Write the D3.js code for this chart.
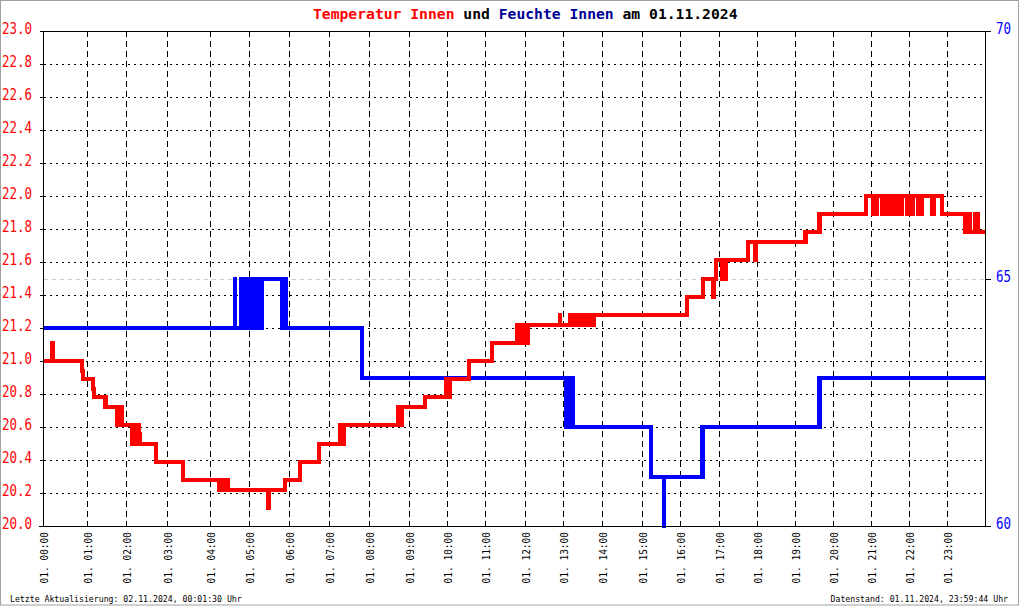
<!DOCTYPE html>
<html>
<head>
<meta charset="utf-8">
<script src="https://cdn.jsdelivr.net/npm/d3@7"></script>
<style>
  html, body { margin: 0; padding: 0; background: #fff; }
  svg { display: block; }
  text { font-family: "DejaVu Sans Mono", "Liberation Mono", monospace; white-space: pre; }
</style>
</head>
<body>
<svg id="chart" width="1020" height="606"></svg>
<script>
// ---------------- data ----------------
const titleParts = [
  ["Temperatur Innen", "#ff0000"],
  [" und ", "#000000"],
  ["Feuchte Innen", "#000099"],
  [" am 01.11.2024", "#000000"]
];
const footerLeft = "Letzte Aktualisierung: 02.11.2024, 00:01:30 Uhr";
const footerRight = "Datenstand: 01.11.2024, 23:59:44 Uhr";

// number of logged records in each hour (x axis is record based)
const recordsPerHour = [44,39,41,43,39,40,40,40,40,38,38,40,38,39,40,38,39,38,38,38,38,38,38,39];
const hourLabels = d3.range(0, 24).map(h => "01. " + String(h).padStart(2, "0") + ":00");

const tempTicks = [20.0,20.2,20.4,20.6,20.8,21.0,21.2,21.4,21.6,21.8,22.0,22.2,22.4,22.6,22.8,23.0];
const humTicks = [60, 65, 70];
const humRefLine = 65;

// temperature (°C), step after
const temperature = [
  ["00:00",21.0],["00:12",21.11],["00:13",21.0],
  ["00:53",20.94],["00:55",20.89],
  ["01:09",20.83],["01:10",20.78],
  ["01:27",20.72],["01:28",20.78],["01:29",20.72],
  ["01:46",20.61],["01:47",20.72],["01:49",20.61],["01:50",20.67],["01:52",20.61],["01:53",20.72],["01:54",20.61],
  ["02:09",20.5],["02:10",20.61],["02:12",20.5],["02:14",20.61],["02:15",20.5],["02:17",20.61],["02:19",20.5],["02:20",20.56],["02:21",20.5],
  ["02:44",20.39],
  ["03:22",20.28],
  ["04:14",20.22],["04:15",20.28],["04:18",20.22],["04:20",20.28],["04:24",20.22],["04:25",20.28],["04:27",20.22],
  ["05:29",20.11],["05:30",20.22],
  ["05:54",20.28],
  ["06:16",20.39],
  ["06:45",20.5],
  ["07:16",20.61],["07:17",20.5],["07:19",20.61],["07:20",20.5],["07:23",20.61],
  ["08:43",20.72],["08:44",20.61],["08:46",20.72],["08:47",20.61],["08:49",20.72],
  ["09:25",20.78],
  ["09:58",20.89],["09:59",20.78],["10:01",20.89],["10:02",20.78],["10:04",20.89],
  ["10:35",21.0],
  ["11:10",21.11],
  ["11:48",21.22],["11:49",21.11],["11:52",21.22],["11:53",21.11],["11:57",21.22],["11:59",21.11],["12:01",21.22],["12:02",21.11],["12:05",21.22],
  ["12:55",21.28],["12:56",21.22],
  ["13:11",21.28],["13:12",21.22],["13:15",21.28],["13:17",21.22],["13:19",21.28],["13:21",21.22],["13:24",21.28],["13:25",21.22],["13:28",21.28],["13:30",21.22],["13:33",21.28],["13:35",21.22],["13:38",21.28],["13:40",21.22],["13:43",21.28],["13:44",21.22],["13:47",21.28],
  ["16:11",21.39],
  ["16:35",21.5],
  ["16:51",21.39],["16:52",21.5],["16:55",21.61],["17:05",21.5],["17:06",21.61],["17:10",21.5],["17:11",21.61],
  ["17:46",21.72],["17:57",21.61],["17:58",21.72],
  ["19:15",21.78],["19:16",21.72],["19:17",21.78],
  ["19:38",21.89],["19:39",21.78],["19:40",21.89],
  ["20:52",22.0],
  ["21:03",21.89],["21:05",22.0],["21:07",21.89],["21:10",22.0],
  ["21:17",21.89],["21:19",22.0],["21:20",21.89],["21:22",22.0],
  ["21:25",21.89],["21:27",22.0],["21:29",21.89],["21:31",22.0],["21:33",21.89],["21:36",22.0],["21:37",21.89],["21:38",22.0],
  ["21:43",21.89],["21:45",22.0],["21:47",21.89],["21:49",22.0],
  ["21:57",21.89],["21:59",22.0],["22:01",21.89],["22:03",22.0],["22:04",21.89],["22:06",22.0],
  ["22:14",21.89],["22:16",22.0],["22:18",21.89],["22:20",22.0],
  ["22:36",21.89],["22:38",22.0],["22:39",21.89],["22:40",22.0],
  ["22:52",21.89],
  ["23:28",21.78],["23:30",21.89],["23:31",21.78],["23:34",21.89],["23:35",21.78],
  ["23:43",21.89],["23:44",21.78],["23:46",21.89],["23:47",21.78],
  ["23:59",21.78]
];

// relative humidity (%), step after
const humidity = [
  ["00:00",64],["04:38",65],["04:39",64],
  ["04:48",65],["04:49",64],["04:50",65],["04:52",64],["04:53",65],["04:54",64],
  ["04:57",65],["04:58",64],["05:01",65],["05:02",64],
  ["05:04",65],["05:06",64],["05:07",65],["05:09",64],["05:10",65],["05:12",64],["05:13",65],["05:15",64],["05:16",65],["05:18",64],["05:19",65],
  ["05:49",64],["05:50",65],["05:52",64],["05:53",65],["05:55",64],
  ["07:50",63],
  ["13:04",62],["13:06",63],["13:08",62],["13:10",63],["13:12",62],["13:13",63],["13:15",62],
  ["15:14",61],["15:34",60],["15:35",61],
  ["16:34",62],["16:35",61],["16:36",62],
  ["19:38",63],["19:39",62],["19:40",63],
  ["23:59",63]
];

// ---------------- chart ----------------
const svg = d3.select("#chart");
const W = 1020, H = 606;
const plot = {left: 43, right: 986, top: 31, bottom: 526};

svg.append("rect").attr("width", W).attr("height", H).attr("fill", "#fff");

const cumRecords = [0];
recordsPerHour.forEach(n => cumRecords.push(cumRecords[cumRecords.length - 1] + n));
const hourToRecord = d3.scaleLinear().domain(d3.range(0, 25)).range(cumRecords);
const x = d3.scaleLinear().domain([0, cumRecords[cumRecords.length - 1]]).range([plot.left, plot.right]);
const parseT = s => { const [h, m] = s.split(":").map(Number); return h + m / 60; };
const xt = s => x(hourToRecord(parseT(s)));
const xh = h => x(hourToRecord(h));

const yT = d3.scaleLinear().domain([20, 23]).range([plot.bottom, plot.top]);
const yH = d3.scaleLinear().domain([60, 70]).range([plot.bottom, plot.top]);

const rightX = Math.round(plot.right) - 0.5;
const leftX = plot.left + 0.5;

// horizontal dotted grid
const grid = svg.append("g").attr("shape-rendering", "crispEdges");
grid.selectAll("line.hg").data(tempTicks.filter(v => v > 20 && v < 23)).join("line")
  .attr("x1", leftX).attr("x2", rightX)
  .attr("y1", d => Math.round(yT(d)) + 0.5).attr("y2", d => Math.round(yT(d)) + 0.5)
  .attr("stroke", "#000").attr("stroke-width", 1).attr("stroke-dasharray", "2,4");

// vertical dashed grid
grid.selectAll("line.vg").data(d3.range(1, 24)).join("line")
  .attr("x1", d => Math.round(xh(d)) + 0.5).attr("x2", d => Math.round(xh(d)) + 0.5)
  .attr("y1", plot.top).attr("y2", plot.bottom)
  .attr("stroke", "#000").attr("stroke-width", 1).attr("stroke-dasharray", "6,4");

// humidity reference line
grid.append("line")
  .attr("x1", leftX).attr("x2", rightX)
  .attr("y1", Math.round(yH(humRefLine)) + 0.5).attr("y2", Math.round(yH(humRefLine)) + 0.5)
  .attr("stroke", "#c8c8c8").attr("stroke-width", 1).attr("stroke-dasharray", "4,4");

// lines
const lineT = d3.line().x(d => xt(d[0])).y(d => yT(d[1])).curve(d3.curveStepAfter);
const lineH = d3.line().x(d => xt(d[0])).y(d => yH(d[1])).curve(d3.curveStepAfter);

svg.append("path").datum(humidity).attr("d", lineH)
  .attr("fill", "none").attr("stroke", "#0000ff").attr("stroke-width", 4)
  .attr("stroke-linejoin", "miter").attr("shape-rendering", "crispEdges");
svg.append("path").datum(temperature).attr("d", lineT)
  .attr("fill", "none").attr("stroke", "#ff0000").attr("stroke-width", 4)
  .attr("stroke-linejoin", "miter").attr("shape-rendering", "crispEdges");

// frame / axes
const ax = svg.append("g").attr("stroke", "#000").attr("stroke-width", 1).attr("shape-rendering", "crispEdges");
ax.append("line").attr("x1", leftX).attr("x2", leftX).attr("y1", plot.top).attr("y2", plot.bottom + 0.5);
ax.append("line").attr("x1", rightX).attr("x2", rightX).attr("y1", plot.top).attr("y2", plot.bottom + 0.5);
ax.append("line").attr("x1", leftX).attr("x2", rightX + 5).attr("y1", plot.top + 0.5).attr("y2", plot.top + 0.5);
ax.append("line").attr("x1", leftX - 5).attr("x2", rightX + 5).attr("y1", plot.bottom + 0.5).attr("y2", plot.bottom + 0.5);
ax.selectAll("line.lt").data(tempTicks).join("line")
  .attr("x1", leftX - 4).attr("x2", leftX)
  .attr("y1", d => Math.round(yT(d)) + 0.5).attr("y2", d => Math.round(yT(d)) + 0.5);
ax.selectAll("line.rt").data(humTicks).join("line")
  .attr("x1", rightX).attr("x2", rightX + 5)
  .attr("y1", d => Math.round(yH(d)) + 0.5).attr("y2", d => Math.round(yH(d)) + 0.5);

// left tick labels
svg.append("g").selectAll("text").data(tempTicks).join("text")
  .attr("transform", d => `translate(32,${Math.round(yT(d)) + 3}) scale(1,1.22)`)
  .attr("text-anchor", "end").attr("font-size", 12.5).attr("fill", "#ff0000")
  .text(d => d3.format(".1f")(d));

// right tick labels
svg.append("g").selectAll("text").data(humTicks).join("text")
  .attr("transform", d => `translate(996,${Math.round(yH(d)) + 3}) scale(1,1.22)`)
  .attr("text-anchor", "start").attr("font-size", 12.5).attr("fill", "#0000ff")
  .text(d => d);

// x labels (rotated)
svg.append("g").selectAll("text").data(hourLabels).join("text")
  .attr("transform", (d, i) => `translate(${Math.round(xh(i)) + 5},532) rotate(-90) scale(1,1.15)`)
  .attr("text-anchor", "end").attr("font-size", 9.5).attr("fill", "#000")
  .text(d => d);

// title
const title = svg.append("text").attr("x", 313).attr("y", 18.5)
  .attr("font-size", 14.7).attr("font-weight", "bold");
title.selectAll("tspan").data(titleParts).join("tspan")
  .attr("fill", d => d[1]).text(d => d[0]);

// footers
svg.append("text").attr("x", 10).attr("y", 602).attr("font-size", 8.2).attr("fill", "#000").text(footerLeft);
svg.append("text").attr("x", 1008).attr("y", 602).attr("text-anchor", "end").attr("font-size", 8.2).attr("fill", "#000").text(footerRight);

// outer border
svg.append("rect").attr("x", 0.5).attr("y", 0.5).attr("width", 1018).attr("height", 604.5)
  .attr("fill", "none").attr("stroke", "#a0a0a0").attr("stroke-width", 1);
</script>
</body>
</html>
